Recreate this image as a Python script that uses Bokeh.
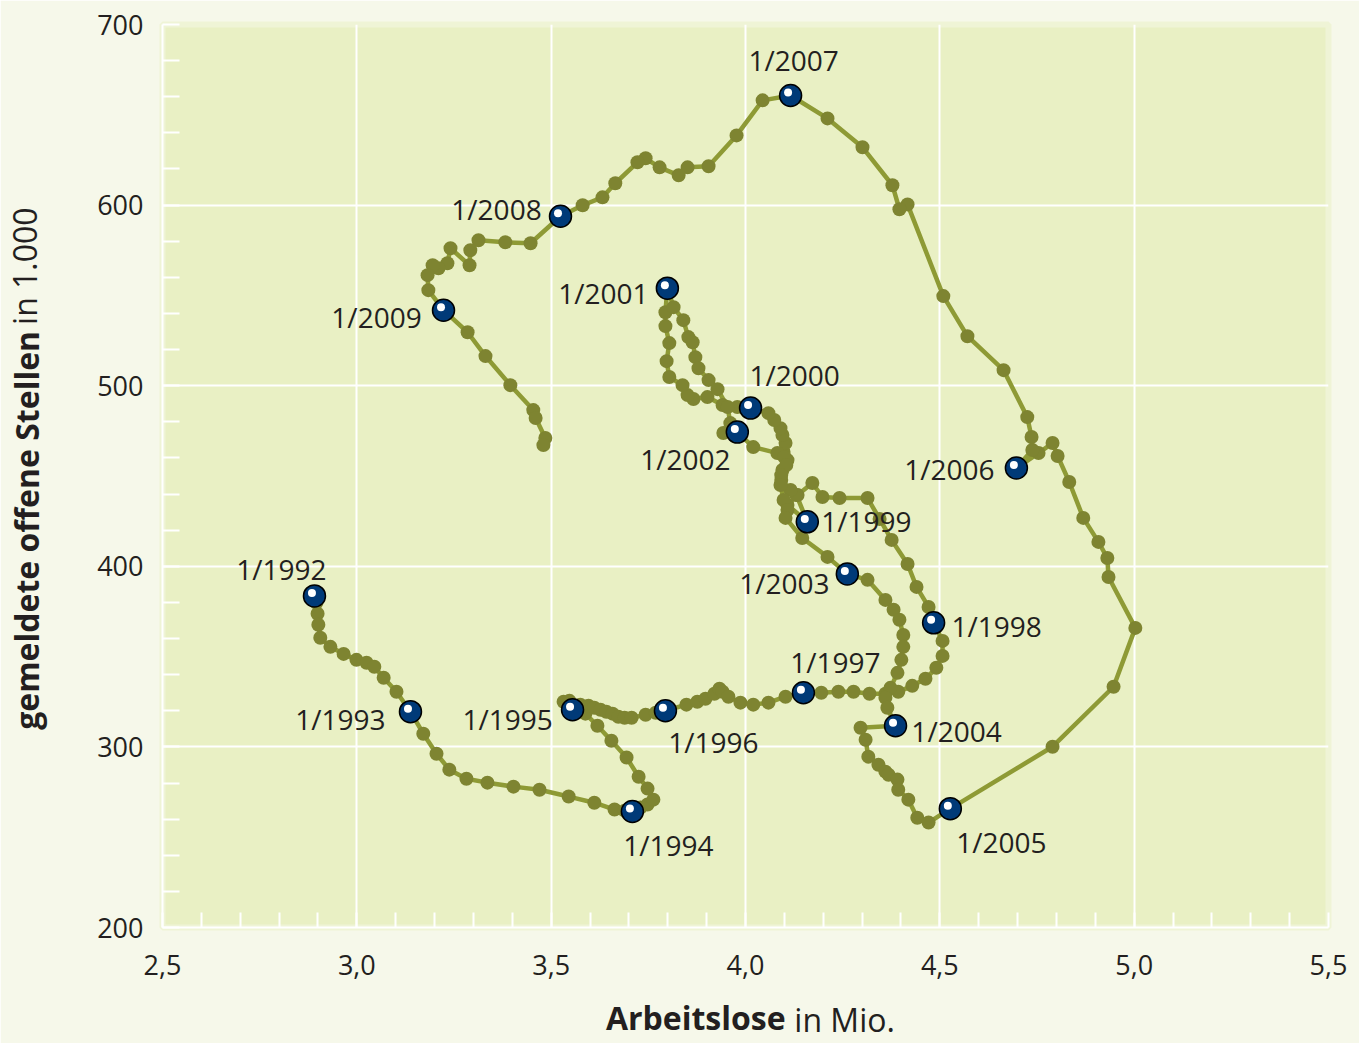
import json
from bokeh.plotting import figure
from bokeh.models import (ColumnDataSource, FixedTicker, Range1d, CustomJSTickFormatter,
                          LinearAxis)
from bokeh.core.properties import value
from bokeh.embed import file_html
from bokeh.resources import INLINE

# ---------------- data (Arbeitslose in Mio., gemeldete offene Stellen in 1.000), monthly ----------------
years = list(range(1992, 2010))

al_1992 = [2.891, 2.896, 2.899, 2.901, 2.906, 2.932, 2.966, 2.999, 3.025, 3.045, 3.069, 3.102]
os_1992 = [383.6, 379.8, 373.7, 367.6, 360.4, 355.4, 351.5, 348.2, 346.6, 344.4, 338.3, 330.5]
al_1993 = [3.138, 3.171, 3.205, 3.238, 3.282, 3.336, 3.403, 3.470, 3.545, 3.611, 3.663, 3.689]
os_1993 = [319.5, 307.3, 296.2, 287.4, 282.4, 280.2, 278.0, 276.3, 272.5, 269.1, 265.3, 264.7]
al_1994 = [3.709, 3.730, 3.748, 3.763, 3.748, 3.725, 3.694, 3.655, 3.619, 3.588, 3.532, 3.547]
os_1994 = [264.2, 266.4, 268.1, 270.8, 276.9, 283.5, 294.1, 303.4, 311.7, 318.4, 325.0, 325.5]
al_1995 = [3.555, 3.575, 3.596, 3.611, 3.627, 3.642, 3.658, 3.673, 3.689, 3.707, 3.743, 3.769]
os_1995 = [320.6, 323.4, 322.8, 321.7, 320.6, 319.5, 318.4, 316.7, 316.1, 316.1, 317.8, 318.9]
al_1996 = [3.794, 3.848, 3.876, 3.897, 3.920, 3.933, 3.941, 3.956, 3.987, 4.020, 4.059, 4.103]
os_1996 = [320.0, 323.4, 325.0, 326.7, 329.4, 332.2, 330.5, 327.8, 324.5, 323.4, 324.5, 327.8]
al_1997 = [4.149, 4.195, 4.239, 4.278, 4.319, 4.360, 4.393, 4.429, 4.463, 4.491, 4.507, 4.507]
os_1997 = [330.0, 330.0, 330.5, 330.5, 329.4, 329.4, 330.5, 333.8, 337.7, 343.8, 350.4, 358.7]
al_1998 = [4.484, 4.471, 4.440, 4.417, 4.376, 4.345, 4.314, 4.242, 4.198, 4.172, 4.134, 4.108]
os_1998 = [368.7, 377.5, 388.6, 401.3, 414.6, 426.2, 437.8, 437.8, 438.4, 446.1, 439.5, 434.0]
al_1999 = [4.159, 4.131, 4.116, 4.092, 4.095, 4.108, 4.098, 4.103, 4.095, 4.090, 4.074, 4.059]
os_1999 = [424.6, 439.5, 442.3, 447.8, 453.3, 458.8, 463.3, 468.3, 472.7, 476.5, 481.0, 484.8]
al_2000 = [4.013, 3.979, 3.941, 3.902, 3.866, 3.851, 3.838, 3.804, 3.797, 3.804, 3.794, 3.794]
os_2000 = [487.6, 488.2, 489.3, 493.7, 492.6, 494.8, 500.3, 504.8, 513.6, 523.6, 533.0, 540.7]
al_2001 = [3.799, 3.815, 3.840, 3.853, 3.864, 3.871, 3.879, 3.905, 3.928, 3.954, 3.961, 3.943]
os_2001 = [554.0, 543.5, 536.3, 526.9, 524.1, 515.8, 509.7, 503.1, 498.1, 488.2, 479.3, 473.8]
al_2002 = [3.979, 4.020, 4.082, 4.100, 4.105, 4.092, 4.090, 4.098, 4.108, 4.103, 4.146, 4.211]
os_2002 = [474.3, 466.0, 462.7, 460.5, 456.1, 450.5, 445.0, 436.7, 431.2, 426.8, 415.7, 405.2]
al_2003 = [4.262, 4.314, 4.360, 4.381, 4.396, 4.406, 4.406, 4.401, 4.391, 4.373, 4.360, 4.365]
os_2003 = [395.8, 392.5, 381.4, 375.9, 370.4, 362.0, 355.4, 348.2, 341.0, 332.7, 327.2, 321.7]
al_2004 = [4.386, 4.296, 4.309, 4.316, 4.342, 4.360, 4.368, 4.391, 4.393, 4.419, 4.442, 4.471]
os_2004 = [311.7, 310.6, 304.0, 294.6, 290.1, 286.3, 284.6, 281.9, 276.3, 270.8, 260.8, 258.1]
al_2005 = [4.527, 4.790, 4.947, 5.003, 4.934, 4.931, 4.908, 4.869, 4.833, 4.803, 4.790, 4.754]
os_2005 = [265.8, 300.1, 333.3, 365.9, 394.1, 404.6, 413.5, 426.8, 446.7, 461.1, 468.3, 462.7]
al_2006 = [4.697, 4.738, 4.736, 4.725, 4.664, 4.571, 4.509, 4.417, 4.396, 4.378, 4.301, 4.211]
os_2006 = [454.4, 464.4, 471.6, 482.6, 508.6, 527.4, 549.6, 600.4, 597.7, 611.0, 632.0, 648.0]
al_2007 = [4.116, 4.044, 3.977, 3.905, 3.851, 3.828, 3.779, 3.743, 3.722, 3.665, 3.632, 3.581]
os_2007 = [660.7, 658.0, 638.6, 621.5, 620.9, 616.5, 620.9, 625.9, 623.7, 612.1, 604.3, 599.9]
al_2008 = [3.524, 3.447, 3.382, 3.313, 3.292, 3.290, 3.241, 3.233, 3.210, 3.195, 3.182, 3.184]
os_2008 = [593.8, 578.9, 579.4, 580.5, 575.0, 566.7, 576.1, 567.8, 565.0, 566.7, 561.2, 552.9]
al_2009 = [3.223, 3.285, 3.331, 3.395, 3.454, 3.460, 3.485, 3.480]
os_2009 = [541.8, 529.6, 516.4, 500.3, 486.5, 482.1, 471.0, 467.1]

x_ticks = [2.5, 3.0, 3.5, 4.0, 4.5, 5.0, 5.5]
y_ticks = [200, 300, 400, 500, 600, 700]

x_title_bold, x_title_rest = "Arbeitslose", "in Mio."
y_title_bold, y_title_rest = "gemeldete offene Stellen", "in 1.000"

# ---------------- styling / layout ----------------
# label offsets (screen px) relative to the January marker, one per year
label_dx = [-33, -70, 36, -65, 48, 32, 63, 59, 44, -64, -52, -63, 61, 51, -67, 3, -64, -67]
label_dy = [-27, 7, 33, 9, 31, -31, 3, -1, -33, 5, 27, 9, 5, 33, 1, -35, -7, 7]
# along-axis centres of the two title parts (axis units)
x_title_pos = (3.872, 4.255)
y_title_pos = (419.9, 566.2)

FONT = "Open Sans"
TXT = "#231f20"
LINE_C = "#8e9a35"
DOT_C = "#7e8431"
BLUE = "#003a78"
TITLE_SIZE = "32px"

al_years = [al_1992, al_1993, al_1994, al_1995, al_1996, al_1997, al_1998, al_1999, al_2000,
            al_2001, al_2002, al_2003, al_2004, al_2005, al_2006, al_2007, al_2008, al_2009]
os_years = [os_1992, os_1993, os_1994, os_1995, os_1996, os_1997, os_1998, os_1999, os_2000,
            os_2001, os_2002, os_2003, os_2004, os_2005, os_2006, os_2007, os_2008, os_2009]

arbeitslose = [v for ys in al_years for v in ys]
stellen = [v for ys in os_years for v in ys]
jan_x = [ys[0] for ys in al_years]
jan_y = [ys[0] for ys in os_years]
jan_labels = ["1/%d" % y for y in years]

W, H = 1359, 1043
ML, MR, MT, MB = 162, 31, 24, 115
FW, FH = W - ML - MR, H - MT - MB
x0, x1, y0, y1 = 2.5, 5.5, 200, 700
px_x = (x1 - x0) / FW   # data units per px
px_y = (y1 - y0) / FH

p = figure(width=W, height=H, x_range=Range1d(x0, x1), y_range=Range1d(y0, y1),
           output_backend="svg", toolbar_location=None,
           min_border_left=ML, min_border_right=MR, min_border_top=MT, min_border_bottom=MB)
p.background_fill_color = "#e9f0c4"
p.border_fill_color = "#f6f8ea"
p.outline_line_color = "#eff4d6"
p.outline_line_width = 6

xt = FixedTicker(ticks=x_ticks, minor_ticks=[round(2.5 + 0.1 * i, 2) for i in range(31)])
yt = FixedTicker(ticks=y_ticks, minor_ticks=[200 + 20 * i for i in range(26)])
p.xaxis.ticker = xt
p.yaxis.ticker = yt
p.xgrid.ticker = xt
p.ygrid.ticker = yt
for g in (p.xgrid, p.ygrid):
    g.grid_line_color = "white"
    g.grid_line_width = 2

p.xaxis.formatter = CustomJSTickFormatter(code="return tick.toFixed(1).replace('.', ',');")
for ax in (p.xaxis, p.yaxis):
    ax.axis_line_color = "white"
    ax.axis_line_width = 2
    ax.major_tick_line_color = None
    ax.minor_tick_line_color = "white"
    ax.minor_tick_line_width = 2
    ax.minor_tick_out = 0
    ax.major_label_text_font = FONT
    ax.major_label_text_font_size = "27px"
    ax.major_label_text_color = TXT
p.xaxis.minor_tick_in = 15
p.yaxis.minor_tick_in = 17
p.xaxis.major_label_standoff = 21
p.yaxis.major_label_standoff = 13


def title_axis(text, pos, bold, standoff, vertical):
    a = LinearAxis(ticker=FixedTicker(ticks=[pos], minor_ticks=[]),
                   formatter=CustomJSTickFormatter(code="return %s;" % json.dumps(text)))
    a.axis_line_color = None
    a.major_tick_line_color = None
    a.minor_tick_line_color = None
    a.major_tick_out = 0
    a.major_tick_in = 0
    a.major_label_standoff = standoff
    a.major_label_text_font = FONT
    a.major_label_text_font_size = TITLE_SIZE
    a.major_label_text_font_style = "bold" if bold else "normal"
    a.major_label_text_color = TXT
    if vertical:
        a.major_label_orientation = "vertical"
    return a


# x title: bold part + regular part on the same line (second axis pulled back up)
p.add_layout(title_axis(x_title_bold, x_title_pos[0], True, 18, False), "below")
p.add_layout(title_axis(x_title_rest, x_title_pos[1], False, -44, False), "below")
# y title
p.add_layout(title_axis(y_title_bold, y_title_pos[0], True, 46, True), "left")
p.add_layout(title_axis(y_title_rest, y_title_pos[1], False, -44, True), "left")

src = ColumnDataSource(dict(x=arbeitslose, y=stellen))
p.line("x", "y", source=src, line_color=LINE_C, line_width=4.5)
p.scatter("x", "y", source=src, size=14, fill_color=DOT_C, line_color=None)

jsrc = ColumnDataSource(dict(x=jan_x, y=jan_y, label=jan_labels, dx=label_dx, dy=label_dy,
                             hx=[v - 2.5 * px_x for v in jan_x], hy=[v + 3 * px_y for v in jan_y]))
p.scatter("x", "y", source=jsrc, size=22, fill_color=BLUE, line_color="black", line_width=1.5)
p.scatter("hx", "hy", source=jsrc, size=8, fill_color="white", line_color=None)
p.text("x", "y", text="label", source=jsrc, x_offset="dx", y_offset="dy",
       text_font=value(FONT), text_font_size="28px", text_color=TXT,
       text_align="center", text_baseline="middle")

open("out.html", "w").write(file_html(p, INLINE))
